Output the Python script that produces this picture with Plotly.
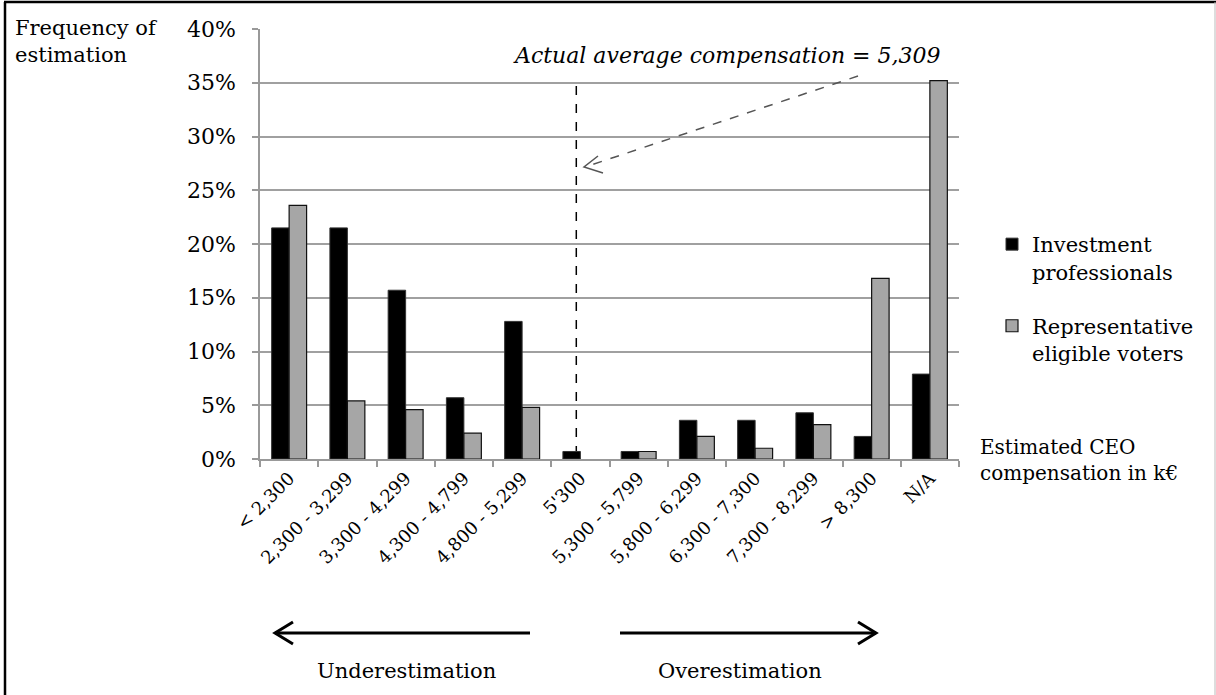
import plotly.graph_objects as go

categories = ["< 2,300", "2,300 - 3,299", "3,300 - 4,299", "4,300 - 4,799",
              "4,800 - 5,299", "5'300", "5,300 - 5,799", "5,800 - 6,299",
              "6,300 - 7,300", "7,300 - 8,299", "> 8,300", "N/A"]
investment_professionals = [21.5, 21.5, 15.7, 5.7, 12.8, 0.7, 0.7, 3.6, 3.6, 4.3, 2.1, 7.9]
eligible_voters = [23.6, 5.4, 4.6, 2.4, 4.8, 0.0, 0.7, 2.1, 1.0, 3.2, 16.8, 35.2]
actual_average_pos = 4.93  # category-axis position of actual average (5,309)

W, H = 1216, 695
L, R, T, B = 260, 257, 29, 236
PW, PH = W - L - R, H - T - B
FONT = "DejaVu Serif"


def px(x):
    return (x - L) / PW


def py(y):
    return (H - B - y) / PH


fig = go.Figure()
fig.add_trace(go.Bar(x=categories, y=investment_professionals,
                     name="Investment<br>professionals", legendgroup="a",
                     marker=dict(color="#000000", line=dict(color="#333333", width=1))))
fig.add_trace(go.Bar(x=categories, y=eligible_voters,
                     name="Representative<br>eligible voters", legendgroup="b",
                     marker=dict(color="#a6a6a6",
                                 line=dict(color="#111111",
                                           width=[1.2 if v > 0 else 0 for v in eligible_voters]))))

shapes = []
# frame
shapes.append(dict(type="line", xref="paper", yref="paper", x0=px(4), x1=px(1216), y0=py(2), y1=py(2),
                   line=dict(color="#000", width=2.5)))
shapes.append(dict(type="line", xref="paper", yref="paper", x0=px(5), x1=px(5), y0=py(2), y1=py(695),
                   line=dict(color="#000", width=2.5)))
shapes.append(dict(type="line", xref="paper", yref="paper", x0=px(1215), x1=px(1215), y0=py(2), y1=py(695),
                   line=dict(color="#bbbbbb", width=1)))
# vertical dashed line at the actual average
shapes.append(dict(type="line", xref="x", yref="paper", x0=actual_average_pos, x1=actual_average_pos,
                   y0=py(86), y1=py(451), line=dict(color="#000", width=1.5, dash="dash")))
# dashed pointer arrow
shapes.append(dict(type="line", xref="paper", yref="paper", x0=px(858), y0=py(76), x1=px(585), y1=py(167),
                   line=dict(color="#555555", width=1.5, dash="dash")))
shapes.append(dict(type="path", xref="paper", yref="paper",
                   path=f"M {px(598)},{py(156)} L {px(584)},{py(167)} L {px(603)},{py(173)}",
                   line=dict(color="#555555", width=1.5)))
# under/over-estimation arrows
shapes.append(dict(type="line", xref="paper", yref="paper", x0=px(530), x1=px(275), y0=py(633), y1=py(633),
                   line=dict(color="#000", width=3)))
shapes.append(dict(type="path", xref="paper", yref="paper",
                   path=f"M {px(293)},{py(622)} L {px(275)},{py(633)} L {px(293)},{py(644)}",
                   line=dict(color="#000", width=3)))
shapes.append(dict(type="line", xref="paper", yref="paper", x0=px(620), x1=px(876), y0=py(633), y1=py(633),
                   line=dict(color="#000", width=3)))
shapes.append(dict(type="path", xref="paper", yref="paper",
                   path=f"M {px(858)},{py(622)} L {px(876)},{py(633)} L {px(858)},{py(644)}",
                   line=dict(color="#000", width=3)))

annotations = [
    dict(text="Frequency of<br>estimation", xref="paper", yref="paper", x=px(13), y=py(14),
         xanchor="left", yanchor="top", align="left", showarrow=False,
         font=dict(family=FONT, size=21, color="#000")),
    dict(text="<i>Actual average compensation = 5,309</i>", xref="paper", yref="paper",
         x=px(726), y=py(55), xanchor="center", yanchor="middle", showarrow=False,
         font=dict(family=FONT, size=22, color="#000")),
    dict(text="Estimated CEO<br>compensation in k€", xref="paper", yref="paper", x=px(978), y=py(460),
         xanchor="left", yanchor="middle", align="left", showarrow=False,
         font=dict(family=FONT, size=20, color="#000")),
    dict(text="Underestimation", xref="paper", yref="paper", x=px(406), y=py(671),
         xanchor="center", yanchor="middle", showarrow=False,
         font=dict(family=FONT, size=21, color="#000")),
    dict(text="Overestimation", xref="paper", yref="paper", x=px(740), y=py(671),
         xanchor="center", yanchor="middle", showarrow=False,
         font=dict(family=FONT, size=21, color="#000")),
]

fig.update_layout(
    width=W, height=H,
    margin=dict(l=L, r=R, t=T, b=B, pad=0),
    paper_bgcolor="white", plot_bgcolor="white",
    barmode="group", bargap=0.4, bargroupgap=0,
    font=dict(family=FONT, size=21, color="#000"),
    shapes=shapes, annotations=annotations,
    legend=dict(x=px(992), y=py(224), xanchor="left", yanchor="top",
                font=dict(family=FONT, size=21, color="#000"),
                valign="top", tracegroupgap=24, bgcolor="rgba(0,0,0,0)"),
    showlegend=True,
)
fig.update_xaxes(type="category", tickson="boundaries", ticks="outside", ticklen=6,
                 tickcolor="#999999", tickwidth=1.5, showline=True, linecolor="#999999", linewidth=1.5,
                 tickangle=-45, tickfont=dict(family=FONT, size=18, color="#000"),
                 showgrid=False, range=[-0.5, 11.5])
fig.update_yaxes(range=[0, 40], dtick=5, ticksuffix="%", ticks="outside", ticklen=6,
                 tickcolor="#999999", tickwidth=1.5, showline=True, linecolor="#999999", linewidth=1.5,
                 showgrid=True, gridcolor="#a0a0a0", gridwidth=1.5,
                 tickfont=dict(family=FONT, size=22, color="#000"), ticklabelstandoff=12,
                 zeroline=False)

fig.write_html("out.html")
